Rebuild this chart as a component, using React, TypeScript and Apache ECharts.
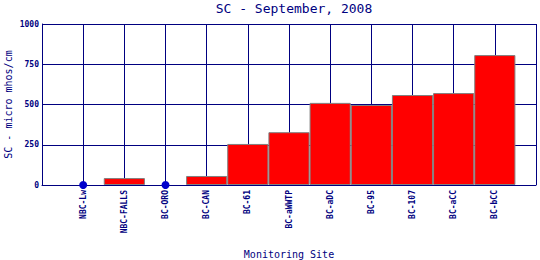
import React, { useEffect, useRef } from "react";
import * as echarts from "echarts";

const categories = ["NBC-Lw", "NBC-FALLS", "BC-ORO", "BC-CAN", "BC-61", "BC-aWWTP", "BC-aDC", "BC-95", "BC-107", "BC-aCC", "BC-bCC"];
const scValues: (number | null)[] = [null, 43, null, 56, 255, 328, 510, 497, 559, 571, 807];
const zeroMarkers: (number | null)[] = [0, null, 0, null, null, null, null, null, null, null, null];
const yTicks = [0, 250, 500, 750, 1000];

const NAVY = "#000080";
const MONO = "'DejaVu Sans Mono', 'Liberation Mono', monospace";

export default function App() {
  const ref = useRef<HTMLDivElement>(null);
  useEffect(() => {
    document.body.style.margin = "0";
    const chart = echarts.init(ref.current!, null, { renderer: "svg" });
    const axisCats = ["", ...categories, " "];
    const barData = [null, ...scValues, null].map((v) => (v === null ? "-" : v));
    const dotData = [null, ...zeroMarkers, null].map((v) => (v === null ? "-" : v));
    chart.setOption({
      animation: false,
      backgroundColor: "#ffffff",
      title: {
        text: "SC - September, 2008",
        left: 289,
        textAlign: "center",
        top: -3,
        textStyle: { fontFamily: MONO, fontSize: 13, fontWeight: "normal", color: NAVY },
      },
      grid: { left: 42, right: 4, top: 24, bottom: 75, containLabel: false, outerBoundsMode: "none" },
      xAxis: {
        type: "category",
        data: axisCats,
        boundaryGap: false,
        name: "Monitoring Site",
        nameLocation: "middle",
        nameGap: 64,
        nameMoveOverlap: false,
        nameTextStyle: { fontFamily: MONO, fontSize: 10, color: NAVY },
        axisLine: { show: true, lineStyle: { color: NAVY, width: 1 } },
        axisTick: { show: false },
        axisLabel: {
          rotate: 90,
          margin: 5,
          interval: 0,
          fontFamily: MONO,
          fontSize: 8,
          fontWeight: "bold",
          color: NAVY,
        },
        splitLine: { show: true, lineStyle: { color: NAVY, width: 1 } },
      },
      yAxis: {
        type: "value",
        min: yTicks[0],
        max: yTicks[yTicks.length - 1],
        interval: 250,
        name: "SC - micro mhos/cm",
        nameLocation: "middle",
        nameGap: 29,
        nameMoveOverlap: false,
        nameTextStyle: { fontFamily: MONO, fontSize: 10, color: NAVY },
        axisLine: { show: true, lineStyle: { color: NAVY, width: 1 } },
        axisTick: { show: false },
        axisLabel: {
          margin: 3,
          fontFamily: MONO,
          fontSize: 8,
          fontWeight: "bold",
          color: NAVY,
          formatter: (v: number) => String(v),
        },
        splitLine: { show: true, lineStyle: { color: NAVY, width: 1 } },
      },
      series: [
        {
          type: "bar",
          data: barData,
          barWidth: "100%",
          itemStyle: { color: "#ff0000", borderColor: "#808080", borderWidth: 1 },
        },
        {
          type: "scatter",
          data: dotData,
          symbol: "circle",
          symbolSize: 8,
          clip: false,
          itemStyle: { color: "#0000cc", opacity: 1 },
        },
      ],
    });
    return () => chart.dispose();
  }, []);
  return <div ref={ref} style={{ width: 540, height: 260 }} />;
}
